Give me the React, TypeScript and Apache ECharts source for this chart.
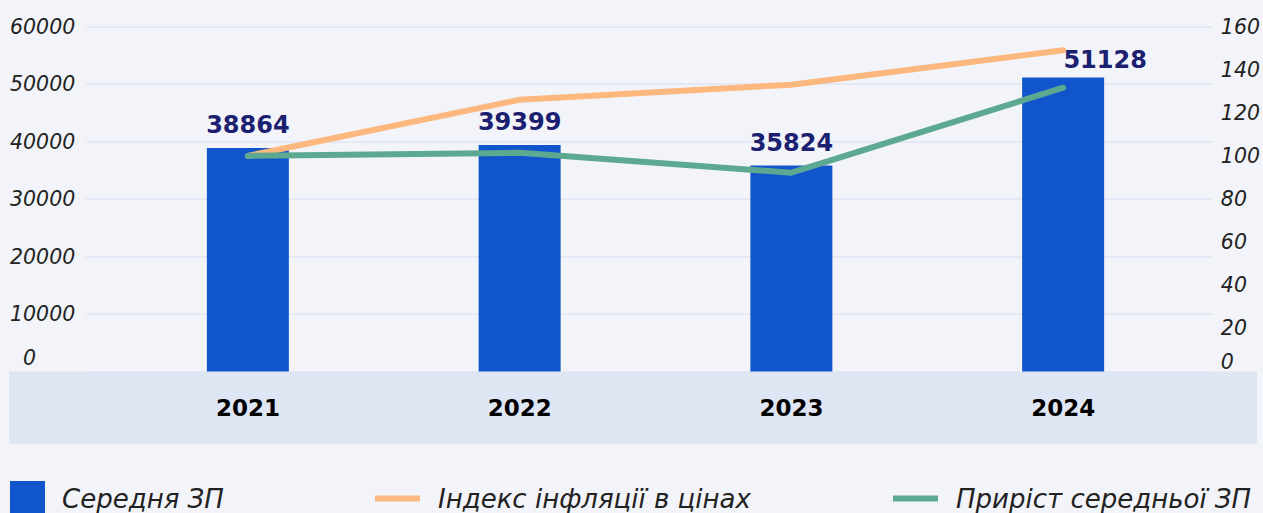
import React, { useEffect, useRef } from "react";
import * as echarts from "echarts";

const years = ["2021", "2022", "2023", "2024"];
const avgSalary = [38864, 39399, 35824, 51128];
const inflationIndex = [100, 126, 133, 149];
const salaryGrowth = [100, 101.4, 92.2, 131.6];
const seriesNames = ["Середня ЗП", "Індекс інфляції в цінах", "Приріст середньої ЗП"];

const FONT = "'DejaVu Sans', sans-serif";
const BAR = "#1155cc";
const ORANGE = "#fcb87e";
const GREEN = "#5ca891";
const NAVY = "#1b2070";

export default function App() {
  const ref = useRef<HTMLDivElement>(null);
  useEffect(() => {
    if (!ref.current) return;
    const chart = echarts.init(ref.current, undefined, { renderer: "svg" });
    const gridTop = 26.5;
    const gridBottom = 513 - 371.5;
    const axisLabelBase = {
      fontFamily: FONT,
      fontStyle: "italic" as const,
      fontSize: 20.5,
      color: "#222222",
    };
    const legendText = {
      fontFamily: FONT,
      fontStyle: "italic" as const,
      fontSize: 26,
      color: "#222222",
      lineHeight: 35,
      padding: [0, 0, 0, 12],
    };
    const barData = avgSalary.map((v, i) =>
      i === avgSalary.length - 1 ? { value: v, label: { offset: [42, 5] } } : v
    );
    chart.setOption({
      animation: false,
      backgroundColor: "#f2f4f9",
      graphic: [
        {
          type: "rect",
          z: 0,
          shape: { x: 9, y: 371.5, width: 1248, height: 72.5 },
          style: { fill: "#dfe6f3" },
        },
      ],
      grid: [
        { left: 86, right: 1263 - 1217, top: gridTop, bottom: gridBottom },
        { left: 112, right: 64, top: gridTop, bottom: gridBottom },
      ],
      xAxis: [
        { type: "category", gridIndex: 0, data: years, show: false },
        {
          type: "category",
          gridIndex: 1,
          data: years,
          z: 5,
          axisLine: { show: false },
          axisTick: { show: false },
          axisLabel: {
            margin: 24,
            fontFamily: FONT,
            fontSize: 23,
            fontWeight: "bold",
            color: "#000000",
            lineHeight: 25,
          },
        },
      ],
      yAxis: [
        {
          type: "value",
          gridIndex: 0,
          position: "left",
          min: 0,
          max: 60000,
          interval: 10000,
          axisLine: { show: false },
          axisTick: { show: false },
          splitLine: { show: true, lineStyle: { color: "#dfe6f3", width: 1.5 } },
          axisLabel: {
            ...axisLabelBase,
            align: "left",
            margin: 76,
            formatter: (v: number) => (v === 0 ? "{z|0}" : String(v)),
            rich: { z: { ...axisLabelBase, padding: [0, 0, 27, 13] } },
          },
        },
        {
          type: "value",
          gridIndex: 0,
          position: "right",
          min: 0,
          max: 160,
          interval: 20,
          axisLine: { show: false },
          axisTick: { show: false },
          splitLine: { show: false },
          axisLabel: {
            ...axisLabelBase,
            align: "left",
            margin: 9,
            formatter: (v: number) => (v === 0 ? "{z|0}" : String(v)),
            rich: { z: { ...axisLabelBase, padding: [0, 0, 19, 0] } },
          },
        },
        { type: "value", gridIndex: 1, min: 0, max: 60000, show: false, splitLine: { show: false } },
        { type: "value", gridIndex: 1, min: 0, max: 160, show: false, splitLine: { show: false } },
      ],
      legend: [
        {
          left: 10,
          top: 481,
          padding: 0,
          selectedMode: false,
          data: [{ name: seriesNames[0], icon: "rect" }],
          itemWidth: 35,
          itemHeight: 35,
          textStyle: legendText,
        },
        {
          left: 375,
          top: 481,
          padding: 0,
          selectedMode: false,
          data: [{ name: seriesNames[1], icon: "rect" }],
          itemWidth: 45,
          itemHeight: 6,
          textStyle: { ...legendText, padding: [0, 0, 0, 13] },
        },
        {
          left: 893,
          top: 481,
          padding: 0,
          selectedMode: false,
          data: [{ name: seriesNames[2], icon: "rect" }],
          itemWidth: 45,
          itemHeight: 6,
          textStyle: { ...legendText, padding: [0, 0, 0, 13] },
        },
      ],
      series: [
        {
          name: seriesNames[0],
          type: "bar",
          xAxisIndex: 1,
          yAxisIndex: 2,
          data: barData,
          barWidth: 82,
          itemStyle: { color: BAR },
          label: {
            show: true,
            position: "top",
            distance: 11,
            fontFamily: FONT,
            fontSize: 24,
            fontWeight: "bold",
            color: NAVY,
          },
        },
        {
          name: seriesNames[1],
          type: "line",
          xAxisIndex: 1,
          yAxisIndex: 3,
          data: inflationIndex,
          symbol: "none",
          itemStyle: { color: ORANGE },
          lineStyle: { color: ORANGE, width: 6, cap: "round", join: "round" },
          z: 3,
        },
        {
          name: seriesNames[2],
          type: "line",
          xAxisIndex: 1,
          yAxisIndex: 3,
          data: salaryGrowth,
          symbol: "none",
          itemStyle: { color: GREEN },
          lineStyle: { color: GREEN, width: 6, cap: "round", join: "round" },
          z: 4,
        },
      ],
    });
    return () => chart.dispose();
  }, []);
  return (
    <div
      ref={ref}
      style={{ position: "fixed", left: 0, top: 0, width: 1263, height: 513 }}
    />
  );
}
